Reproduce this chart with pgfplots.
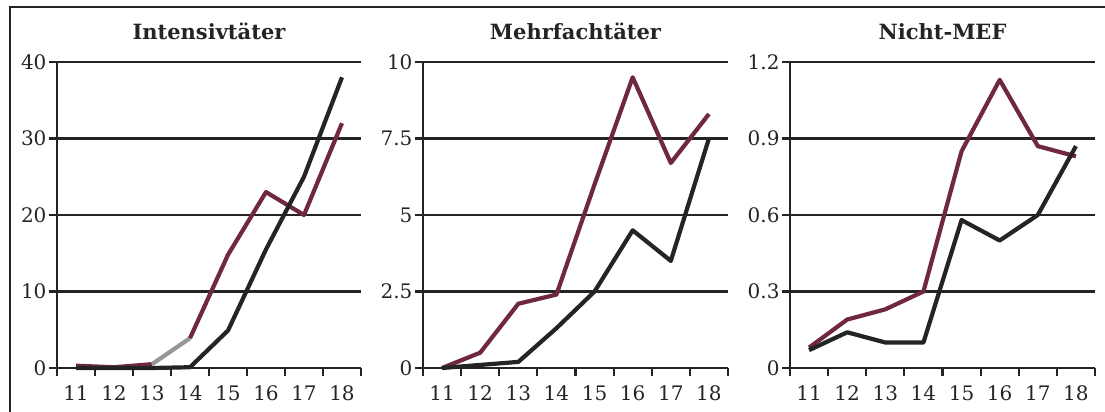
\documentclass[border=0pt]{standalone}
\usepackage{fontspec}
\setmainfont{DejaVu Serif}
\usepackage{pgfplots}
\pgfplotsset{compat=1.18}
\definecolor{maroon}{RGB}{112,40,62}
\definecolor{blk}{RGB}{36,36,36}
\definecolor{gry}{RGB}{150,150,150}
\pgfplotsset{
  panel/.style={
    scale only axis, width=305pt, height=306pt,
    anchor=south west,
    xmin=10.5, xmax=18.5,
    axis x line*=bottom, axis y line*=left,
    axis line style={line width=2.2pt, color=blk, -},
    xtick={10.5,11.5,...,18.5},
    x tick label as interval,
    xticklabels={11,12,13,14,15,16,17,18},
    ymajorgrids,
    grid style={line width=2.2pt, color=blk},
    major tick style={line width=2.2pt,color=blk},
    tick align=outside,
    major tick length=8pt,
    tick label style={font=\fontsize{20}{22}\selectfont, text=blk},
    x tick label style={yshift=-6pt},
    y tick label style={xshift=1pt},
    clip=false,
    title style={font=\bfseries\fontsize{21}{24}\selectfont, text=blk, at={(0.5,1)}, anchor=south, yshift=13pt},
    every axis plot/.append style={line width=4.2pt, line join=round},
  }
}
\begin{document}
\begin{tikzpicture}
\path[use as bounding box] (0pt,0pt) rectangle (1105pt,412pt);
\draw[line width=2pt, blk] (10pt,0pt) -- (10pt,405pt) -- (1105pt,405pt);

\begin{axis}[panel, at={(57pt,44pt)}, width=304pt, title={Intensivtäter},
  ymin=0, ymax=40, ytick={0,10,20,30,40}, yticklabels={0,10,20,30,40}]
\addplot[maroon] coordinates {(11,0.3) (12,0.1) (13,0.5)};
\addplot[gry] coordinates {(13,0.5) (14,3.9)};
\addplot[maroon] coordinates {(14,3.9) (15,14.8) (16,23) (17,20) (18,32)};
\addplot[blk] coordinates {(11,0) (12,0) (13,0) (14,0.1) (15,4.9) (16,15.5) (17,25) (18,38)};
\end{axis}

\begin{axis}[panel, at={(423pt,44pt)}, title={Mehrfachtäter},
  ymin=0, ymax=10, ytick={0,2.5,5,7.5,10}, yticklabels={0,2.5,5,7.5,10}]
\addplot[maroon] coordinates {(11,0) (12,0.5) (13,2.1) (14,2.4) (15,6) (16,9.5) (17,6.7) (18,8.3)};
\addplot[blk] coordinates {(11,0) (12,0.1) (13,0.2) (14,1.3) (15,2.5) (16,4.5) (17,3.5) (18,7.5)};
\end{axis}

\begin{axis}[panel, at={(790pt,44pt)}, title={Nicht-MEF},
  ymin=0, ymax=1.2, ytick={0,0.3,0.6,0.9,1.2}, yticklabels={0,0.3,0.6,0.9,1.2}]
\addplot[maroon] coordinates {(11,0.08) (12,0.19) (13,0.23) (14,0.30) (15,0.85) (16,1.13) (17,0.87) (18,0.83)};
\addplot[blk] coordinates {(11,0.07) (12,0.14) (13,0.10) (14,0.10) (15,0.58) (16,0.50) (17,0.60) (18,0.87)};
\end{axis}
\end{tikzpicture}
\end{document}
